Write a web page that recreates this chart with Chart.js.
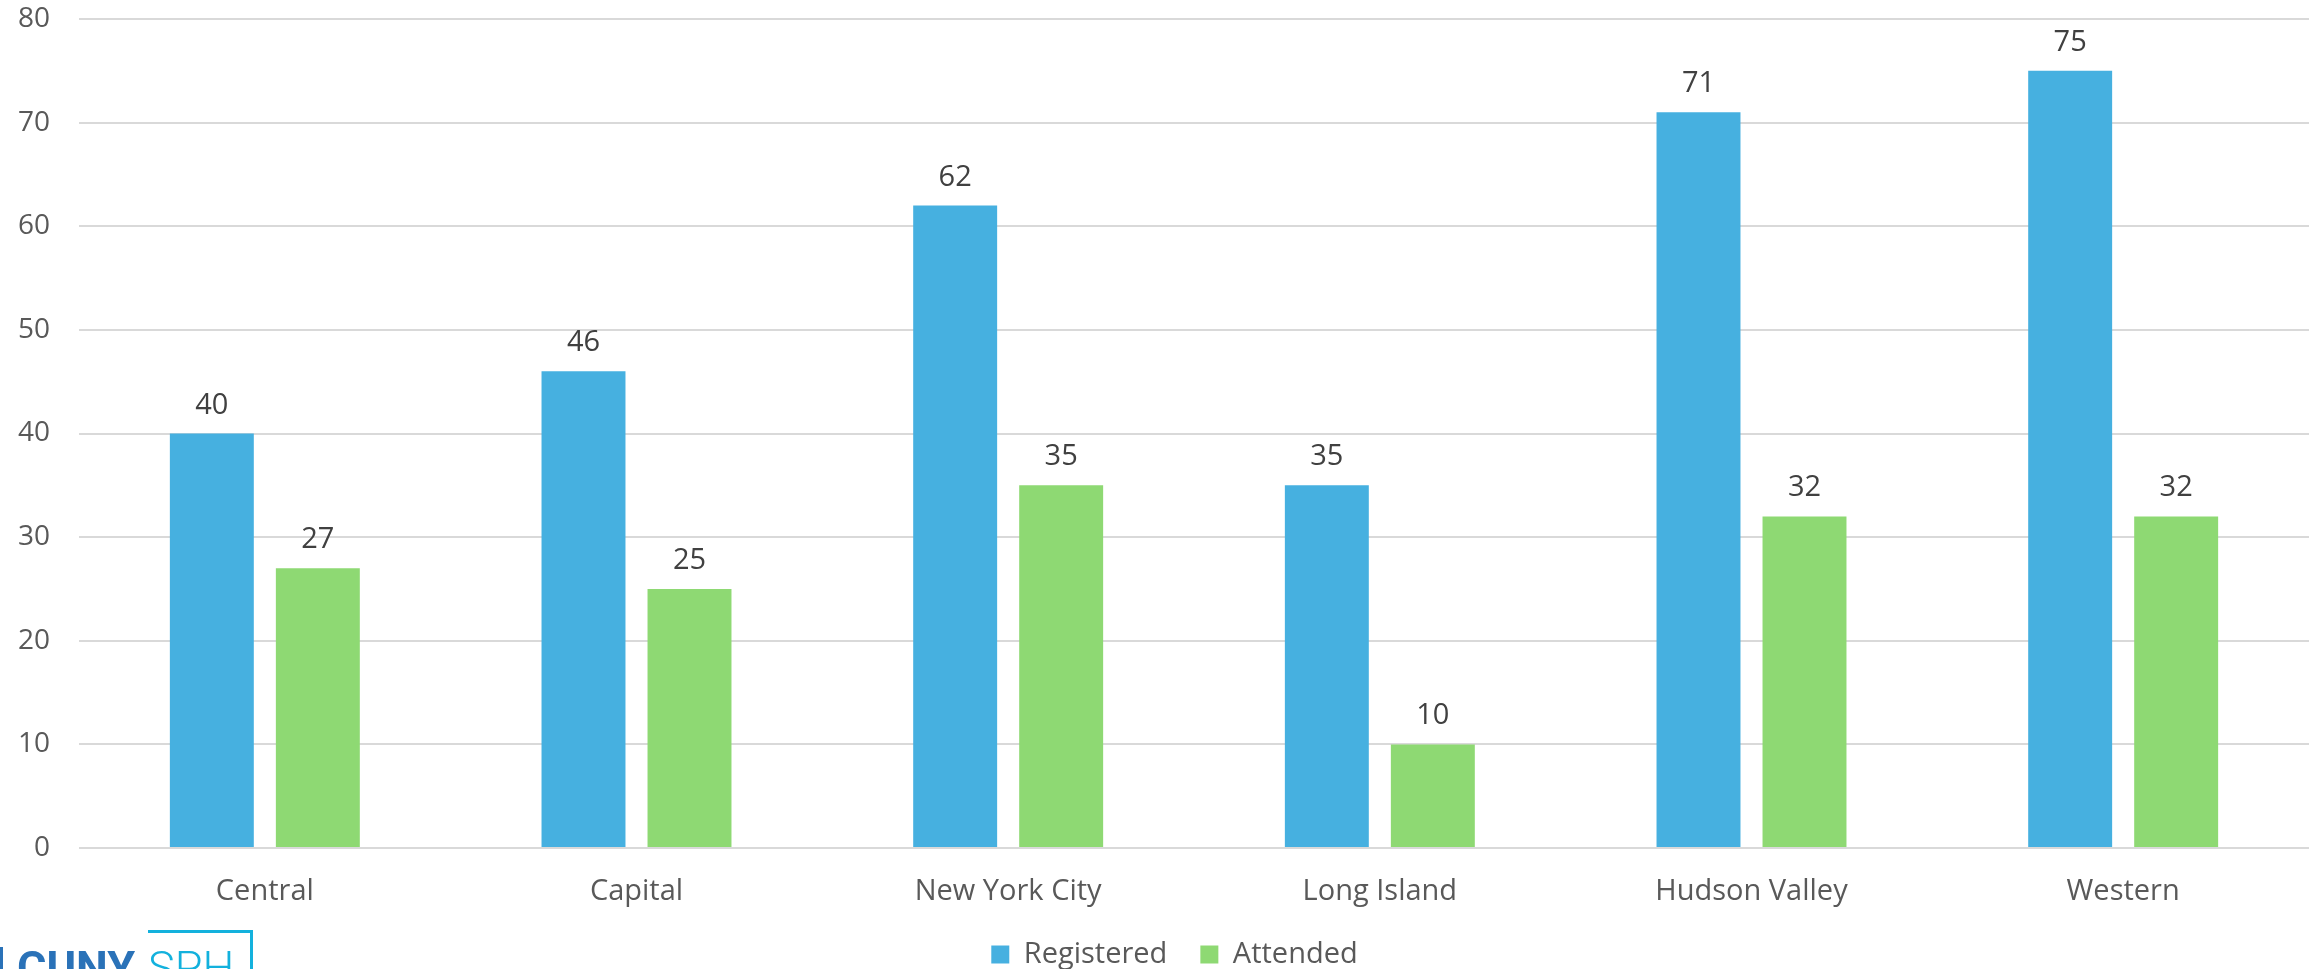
<!DOCTYPE html>
<html><head><meta charset="utf-8">
<script src="https://cdn.jsdelivr.net/npm/chart.js@4.4.1/dist/chart.umd.min.js"></script>
<style>
html,body{margin:0;padding:0;background:#fff;overflow:hidden;}
#wrap{position:relative;width:2323px;height:969px;overflow:hidden;}
canvas{display:block;}
.lg{position:absolute;line-height:1;white-space:nowrap;}
#bar{left:0;top:947px;width:3px;height:40px;background:#2a72b8;}
#cuny{left:17px;top:941px;font:bold 45px Roboto,"Liberation Sans",sans-serif;color:#2a72b8;}
#sphbox{left:148px;top:930px;width:102px;height:60px;border-top:3px solid #13b1dd;border-right:3px solid #13b1dd;}
#sph{left:148px;top:941px;font:300 45px Roboto,"Liberation Sans",sans-serif;color:#13b1dd;}
</style></head><body>
<div id="wrap">
<canvas id="c" width="2323" height="969"></canvas>
<div class="lg" id="bar"></div>
<div class="lg" id="cuny">CUNY</div>
<div class="lg" id="sphbox"></div>
<div class="lg" id="sph">SPH</div>
</div>
<script>
const categories = ['Central', 'Capital', 'New York City', 'Long Island', 'Hudson Valley', 'Western'];
const registered = [40, 46, 62, 35, 71, 75];
const attended = [27, 25, 35, 10, 32, 32];
const seriesNames = ['Registered', 'Attended'];
const seriesColors = ['#46B0E0', '#8ED973'];
const yMin = 0, yMax = 80, yStep = 10;

const LEGEND_HEIGHT = 62;
const XAXIS_HEIGHT = 59;
const LEGEND_SHIFT = 40;

const valueLabels = {
  id: 'valueLabels',
  afterDatasetsDraw(chart) {
    const ctx = chart.ctx;
    ctx.save();
    ctx.font = '29px "Open Sans"';
    ctx.fillStyle = '#404040';
    ctx.textAlign = 'center';
    ctx.textBaseline = 'alphabetic';
    chart.data.datasets.forEach((ds, i) => {
      const meta = chart.getDatasetMeta(i);
      meta.data.forEach((bar, j) => {
        ctx.fillText(String(ds.data[j]), bar.x, bar.y - 20);
      });
    });
    ctx.restore();
  }
};

const legendTweak = {
  id: 'legendTweak',
  beforeInit(chart) {
    const orig = chart.legend.fit;
    chart.legend.fit = function () {
      orig.call(this);
      this.height = LEGEND_HEIGHT;
    };
  },
  afterLayout(chart) {
    chart.legend.left += LEGEND_SHIFT;
  }
};

new Chart(document.getElementById('c'), {
  type: 'bar',
  data: {
    labels: categories,
    datasets: [
      { label: seriesNames[0], data: registered, backgroundColor: seriesColors[0] },
      { label: seriesNames[1], data: attended, backgroundColor: seriesColors[1] }
    ]
  },
  options: {
    responsive: false,
    animation: false,
    devicePixelRatio: 1,
    categoryPercentage: 0.5704,
    barPercentage: 0.792,
    layout: { padding: { top: 19, right: 14, left: 0, bottom: 0 } },
    plugins: {
      legend: {
        position: 'bottom',
        labels: {
          font: { family: 'Open Sans', size: 29 },
          color: '#595959',
          boxWidth: 18,
          boxHeight: 18,
          padding: 33
        }
      },
      tooltip: { enabled: false }
    },
    scales: {
      x: {
        afterFit(scale) { scale.height = XAXIS_HEIGHT; },
        grid: { display: false, drawTicks: false },
        border: { display: false },
        ticks: { font: { family: 'Open Sans', size: 29 }, color: '#595959', padding: 26, maxRotation: 0 }
      },
      y: {
        min: yMin, max: yMax,
        afterFit(scale) { scale.width = 79; scale.paddingTop = 0; scale.paddingBottom = 0; },
        grid: { color: '#D9D9D9', lineWidth: 2, drawTicks: false },
        border: { display: false },
        ticks: { stepSize: yStep, font: { family: 'Open Sans', size: 28 }, color: '#595959', padding: 29 }
      }
    }
  },
  plugins: [valueLabels, legendTweak]
});
</script>
</body></html>
